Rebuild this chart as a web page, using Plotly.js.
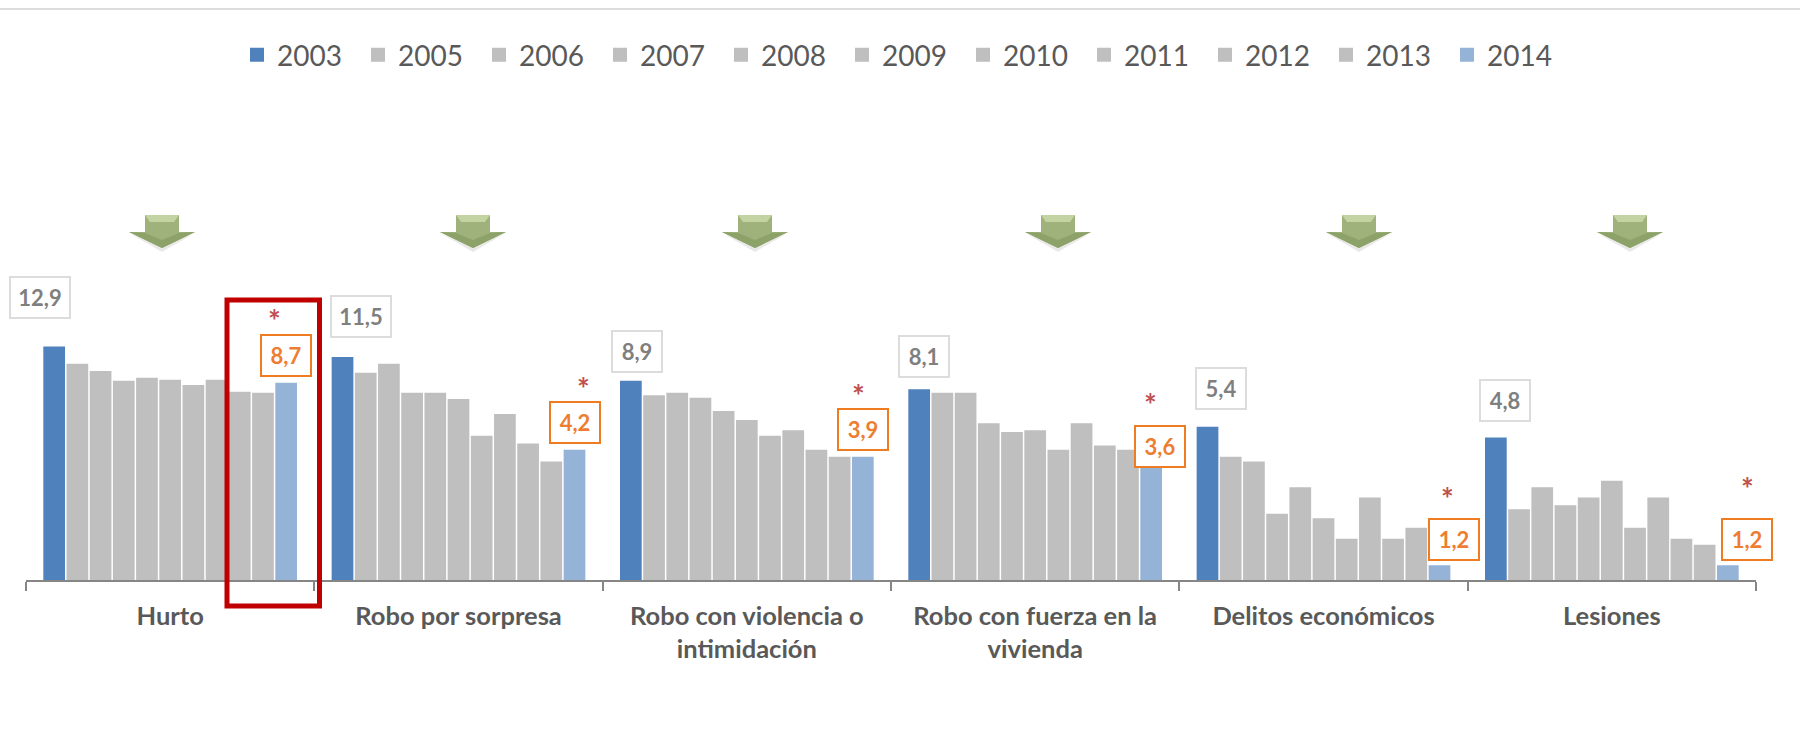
<!DOCTYPE html>
<html><head><meta charset="utf-8">
<script src="https://cdn.plot.ly/plotly-3.0.1.min.js"></script>
<style>html,body{margin:0;padding:0;background:#fff;overflow:hidden}#c{width:1800px;height:731px}</style>
</head><body><div id="c"></div>
<script>
const categories = ["Hurto","Robo por sorpresa","Robo con violencia o<br>intimidación","Robo con fuerza en la<br>vivienda","Delitos económicos","Lesiones"];
const y2003 = [12.9,11.5,8.9,8.1,5.4,4.8];
const y2005 = [10.7,9.7,7.6,7.8,3.9,2.2];
const y2006 = [9.9,10.7,7.8,7.8,3.7,2.8];
const y2007 = [8.9,7.8,7.4,5.6,2.1,2.3];
const y2008 = [9.2,7.8,6.4,5.1,2.8,2.5];
const y2009 = [9.0,7.3,5.8,5.2,2.0,3.0];
const y2010 = [8.5,4.9,4.9,4.2,1.6,1.8];
const y2011 = [9.0,6.2,5.2,5.6,2.5,2.5];
const y2012 = [7.9,4.5,4.2,4.4,1.6,1.6];
const y2013 = [7.8,3.7,3.9,4.2,1.8,1.5];
const y2014 = [8.7,4.2,3.9,3.6,1.2,1.2];
const firstLabels = ["12,9","11,5","8,9","8,1","5,4","4,8"];
const lastLabels = ["8,7","4,2","3,9","3,6","1,2","1,2"];

const W=1800,H=731,L=26,R=1756,T=90,B=580;
const px=x=>(x-L)/(R-L), py=y=>(B-y)/(B-T);
const FONT='Lato, sans-serif';
const series=[["2003",y2003,"#4f81bd"],["2005",y2005,"#bfbfbf"],["2006",y2006,"#bfbfbf"],["2007",y2007,"#bfbfbf"],["2008",y2008,"#bfbfbf"],["2009",y2009,"#bfbfbf"],["2010",y2010,"#bfbfbf"],["2011",y2011,"#bfbfbf"],["2012",y2012,"#bfbfbf"],["2013",y2013,"#bfbfbf"],["2014",y2014,"#95b3d7"]];
const traces=series.map(([n,v,c])=>({type:'bar',name:n,x:categories,y:v,marker:{color:c,line:{color:c,width:2}},hoverinfo:'skip'}));

const firstDx=[-130,-98,-110,-111,-103,-107], firstDy=[50,42,30,34,39,38], firstW=[56,56,46,46,46,46];
const lastDx=[116,116,116,125,130,135], lastDy=[28,28,28,19,27,27];
const starDx=[104,125,112,115,124,136], starDy=[68,67,67,65,72,82];
const annotations=[];
categories.forEach((c,i)=>{
  annotations.push({xref:'x',yref:'y',x:i,y:Math.log10(y2003[i]),xshift:firstDx[i],yshift:firstDy[i],text:firstLabels[i],showarrow:false,
    font:{family:FONT,size:22,color:'#7f7f7f',weight:700},bgcolor:'#fff',bordercolor:'#dcdcdc',borderwidth:2,width:firstW[i],height:37,align:'center',valign:'middle'});
  annotations.push({xref:'x',yref:'y',x:i,y:Math.log10(y2014[i]),xshift:lastDx[i],yshift:lastDy[i],text:lastLabels[i],showarrow:false,
    font:{family:FONT,size:22,color:'#ed7d31',weight:700},bgcolor:'#fff',bordercolor:'#f07c22',borderwidth:2,width:46,height:37,align:'center',valign:'middle'});
  annotations.push({xref:'x',yref:'y',x:i,y:Math.log10(y2014[i]),xshift:starDx[i],yshift:starDy[i]-4,text:'*',showarrow:false,
    font:{family:FONT,size:30,color:'#c0504d',weight:700}});
});

const arrowX=[162,473,755,1058,1359,1630];
const shapes=[];
arrowX.forEach(ax=>{
  const base={xref:'paper',yref:'paper',xsizemode:'pixel',ysizemode:'pixel',xanchor:px(ax),yanchor:py(232),type:'path',line:{width:0}};
  shapes.push({...base,path:'M-31,-2 L0,-20 L31,-2 L0,-13 Z',fillcolor:'rgba(120,120,120,0.16)'});
  shapes.push({...base,path:'M-17,17 H17 V0 L33,0 L0,-16 L-33,0 L-17,0 Z',fillcolor:'#9fb27c'});
  shapes.push({...base,path:'M-17,17 H17 L12,10 H-12 Z',fillcolor:'#c3d3a2'});
  shapes.push({...base,path:'M-33,0 L-17,-1 L0,-8 L17,-1 L33,0 L0,-16 Z',fillcolor:'#8ca268'});
});
shapes.push({type:'line',xref:'paper',yref:'paper',x0:px(0),x1:px(1800),y0:py(9),y1:py(9),line:{color:'#dcdcdc',width:2}});
shapes.push({type:'rect',xref:'paper',yref:'paper',x0:px(227),x1:px(319.5),y0:py(300),y1:py(606),line:{color:'#c00000',width:5}});

Plotly.newPlot('c',traces,{
  width:W,height:H,margin:{l:L,r:W-R,t:T,b:H-B,pad:0},
  paper_bgcolor:'#fff',plot_bgcolor:'rgba(0,0,0,0)',
  barmode:'group',bargap:0.115,bargroupgap:0.15,
  font:{family:FONT,color:'#595959'},
  xaxis:{type:'category',range:[-0.5,5.5],categoryorder:'array',categoryarray:categories,tickson:'boundaries',ticks:'outside',ticklen:9,tickwidth:2,tickcolor:'#868686',
    showline:true,linecolor:'#868686',linewidth:2,showgrid:false,zeroline:false,tickangle:0,ticklabelstandoff:12,
    tickfont:{family:FONT,size:25.5,color:'#595959',weight:700}},
  yaxis:{type:'log',visible:false,range:[0.014,0.014+(B-T)/212],showgrid:false,zeroline:false},
  legend:{orientation:'h',x:px(237),y:py(55),xanchor:'left',yanchor:'middle',font:{family:FONT,size:28,color:'#595959'},entrywidth:76,entrywidthmode:'pixels',itemclick:false,itemdoubleclick:false,bgcolor:'rgba(0,0,0,0)',traceorder:'normal'},
  annotations,shapes,hovermode:false
},{displayModeBar:false,staticPlot:true});
</script></body></html>
